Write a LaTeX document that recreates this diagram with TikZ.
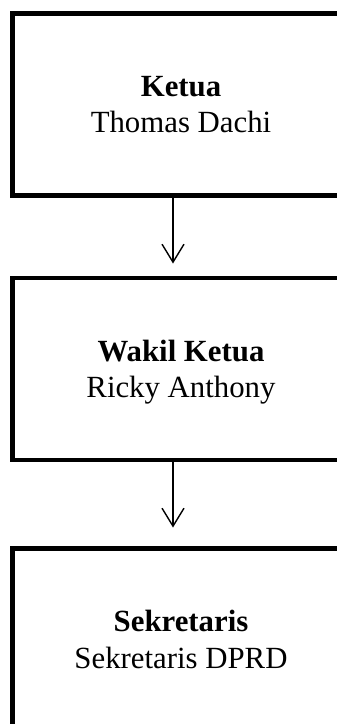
\documentclass[tikz,border=0pt]{standalone}
\usepackage{fontspec}
\setmainfont{Liberation Serif}
\usetikzlibrary{arrows.meta}
\begin{document}
\begin{tikzpicture}[x=1pt,y=-1pt,
  box/.style={draw, line width=4.5pt, minimum width=337pt, minimum height=182pt,
    inner sep=0pt, outer sep=0pt, align=center, text depth=0pt,
    font=\fontsize{30.8}{36.5}\selectfont},
  conn/.style={line width=1.4pt, -{Straight Barb[length=18pt,width=22pt,line width=1.4pt]}}]
\useasboundingbox (0,0) rectangle (337,724);
\clip (0,0) rectangle (337,724);
\node[box] (k) at (181,104.5) {\textbf{Ketua}\\Thomas Dachi};
\node[box] (w) at (181,369) {\textbf{Wakil Ketua}\\Ricky Anthony};
\node[box] (s) at (181,639.5) {\textbf{Sekretaris}\\Sekretaris DPRD};
\draw[conn, shorten >=14.5pt] ([xshift=-8pt]k.south) -- ([xshift=-8pt]w.north);
\draw[conn, shorten >=21pt] ([xshift=-8pt]w.south) -- ([xshift=-8pt]s.north);
\end{tikzpicture}
\end{document}
